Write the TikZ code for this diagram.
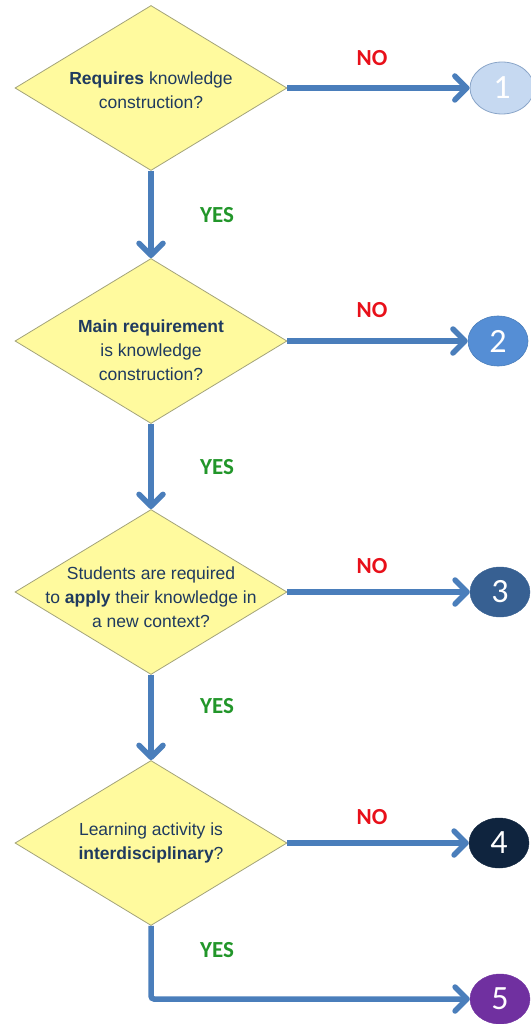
\documentclass[tikz,border=0pt]{standalone}
\usepackage{fontspec}
\setmainfont{Liberation Sans}
\newfontfamily\arialfont{Liberation Sans}
\newfontfamily\calfont{Carlito}
\usetikzlibrary{shapes.geometric,arrows.meta}
\definecolor{diafill}{HTML}{FFFA9E}
\definecolor{diaborder}{HTML}{A3A37A}
\definecolor{dtextc}{HTML}{1F3A5F}
\definecolor{arrc}{HTML}{4A7EBB}
\definecolor{yesc}{HTML}{22962A}
\definecolor{noc}{HTML}{E8101A}
\definecolor{eonefill}{HTML}{C6D9F1}
\definecolor{eoneborder}{HTML}{8AA5C8}
\definecolor{etwofill}{HTML}{558ED5}
\definecolor{ethreefill}{HTML}{376092}
\definecolor{efourfill}{HTML}{0F243E}
\definecolor{efivefill}{HTML}{7030A0}
\tikzset{
  dia/.style={diamond, draw=diaborder, fill=diafill, line width=0.8pt,
    minimum width=272pt, minimum height=165pt, inner sep=0pt},
  dtext/.style={font=\arialfont\fontsize{17.5}{24}\selectfont, text=dtextc, align=center},
  endp/.style={ellipse, minimum width=60pt, minimum height=50pt, inner sep=0pt,
    font=\calfont\fontsize{34}{34}\selectfont, text=white},
  arr/.style={line width=5.5pt, draw=arrc,
    -{Straight Barb[length=12pt,width=24pt,line cap=round,line join=round]}},
  yeslab/.style={font=\calfont\bfseries\fontsize{23}{23}\selectfont, text=yesc},
  nolab/.style={font=\calfont\bfseries\fontsize{23}{23}\selectfont, text=noc}
}
\begin{document}
\begin{tikzpicture}[x=1pt,y=-1pt]
\path[use as bounding box] (0,0) rectangle (530,1024);
% decision diamonds
\node[dia, label={[dtext, yshift=-2pt]center:{\bfseries Requires} knowledge\\construction?}] (d1) at (151,88) {};
\node[dia, label={[dtext, yshift=-9pt]center:{\bfseries Main requirement}\\is knowledge\\construction?}] (d2) at (151,341) {};
\node[dia, label={[dtext, yshift=-5pt]center:Students are required\\to {\bfseries apply} their knowledge in\\a new context?}] (d3) at (151,592) {};
\node[dia, label={[dtext]center:Learning activity is\\{\bfseries interdisciplinary}?}] (d4) at (151,843) {};
% end points
\node[endp, fill=eonefill, draw=eoneborder, line width=0.8pt, minimum width=64pt, minimum height=52pt] (e1) at (502,88) {1};
\node[endp, fill=etwofill, draw=arrc, line width=0.6pt] (e2) at (498,341) {2};
\node[endp, fill=ethreefill, draw=ethreefill] (e3) at (500,592) {3};
\node[endp, fill=efourfill, draw=efourfill] (e4) at (499,843) {4};
\node[endp, fill=efivefill, draw=efivefill] (e5) at (500,999) {5};
% connectors
\draw[arr] (d1.south) -- (d2.north);
\draw[arr] (d2.south) -- (d3.north);
\draw[arr] (d3.south) -- (d4.north);
\draw[arr, rounded corners=3pt] (d4.south) |- (e5.west);
\draw[arr] (d1.east) -- (e1.west);
\draw[arr] (d2.east) -- (e2.west);
\draw[arr] (d3.east) -- (e3.west);
\draw[arr] (d4.east) -- (e4.west);
% labels
\node[yeslab] (y1) at (217,215) {YES};
\node[yeslab] (y2) at (217,467) {YES};
\node[yeslab] (y3) at (217,706) {YES};
\node[yeslab] (y4) at (217,950) {YES};
\node[nolab] (n1) at (372,58) {NO};
\node[nolab] (n2) at (372,310) {NO};
\node[nolab] (n3) at (372,566) {NO};
\node[nolab] (n4) at (372,817) {NO};
\end{tikzpicture}
\end{document}
